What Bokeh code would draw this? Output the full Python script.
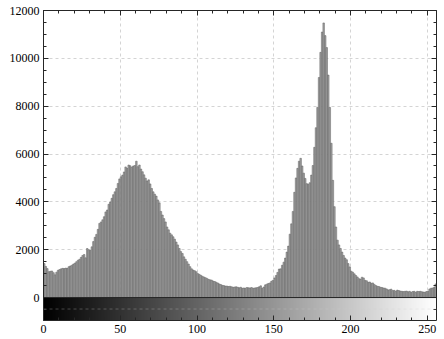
from bokeh.plotting import figure
from bokeh.models import (Range1d, FixedTicker, LinearAxis, Span, LinearColorMapper,
                          CustomLabelingPolicy)
from bokeh.palettes import Greys256
from bokeh.embed import file_html
from bokeh.resources import INLINE
import numpy as np

# histogram counts for gray levels 0..255
counts = [
    1420, 1300, 1210, 1080, 1100, 1110, 1040, 950, 1060, 1140,
    1170, 1200, 1220, 1210, 1230, 1220, 1290, 1320, 1350, 1400,
    1440, 1500, 1560, 1600, 1680, 1760, 1800, 1660, 2050, 2000,
    1980, 2120, 2340, 2520, 2640, 2850, 3100, 3160, 3250, 3380,
    3580, 3660, 3900, 3990, 4150, 4300, 4420, 4560, 4770, 4960,
    5050, 5120, 5250, 5460, 5400, 5540, 5510, 5450, 5500, 5520,
    5700, 5470, 5540, 5370, 5260, 5130, 4990, 4870, 4920, 4750,
    4560, 4420, 4320, 4240, 4080, 3960, 3600, 3450, 3300, 3160,
    2950, 2830, 2690, 2620, 2540, 2440, 2320, 2200, 2050, 1920,
    1840, 1700, 1600, 1500, 1400, 1290, 1200, 1150, 1120, 1080,
    1000, 970, 930, 890, 860, 830, 800, 760, 740, 730,
    690, 670, 640, 610, 570, 540, 510, 500, 480, 480,
    460, 470, 450, 430, 440, 450, 430, 410, 430, 390,
    400, 390, 420, 410, 400, 420, 390, 400, 410, 420,
    450, 490, 390, 440, 530, 560, 590, 610, 680, 720,
    820, 920, 1050, 1190, 1200, 1350, 1480, 1650, 1900, 2150,
    2650, 3080, 3600, 4400, 5000, 5400, 5700, 5820, 5500, 5200,
    4980, 4760, 4740, 4800, 5120, 5520, 6280, 7100, 7950, 9200,
    10250, 11100, 11480, 10950, 10450, 9300, 7950, 6450, 4900, 3800,
    2950, 2400, 2200, 2050, 1900, 1760, 1650, 1580, 1420, 1280,
    1100, 1060, 990, 920, 860, 790, 770, 850, 820, 720,
    700, 640, 650, 600, 610, 550, 500, 470, 460, 430,
    420, 400, 390, 360, 320, 330, 350, 290, 300, 260,
    310, 290, 270, 260, 250, 260, 270, 240, 260, 220,
    250, 260, 220, 260, 250, 260, 240, 230, 220, 250,
    260, 360, 390, 400, 430, 570,
]
levels = list(range(256))
x_ticks = [0, 50, 100, 150, 200, 250]
x_minor = list(range(0, 257, 10))
y_ticks = [0, 2000, 4000, 6000, 8000, 10000, 12000]
y_minor = list(range(-500, 12001, 500))

FONT = "Liberation Serif"
AX = "#262626"

p = figure(width=444, height=339, output_backend="svg", toolbar_location=None,
           x_range=Range1d(0, 256), y_range=Range1d(-960, 12000),
           min_border_left=43, min_border_right=8, min_border_top=10,
           min_border_bottom=19)
p.outline_line_color = None
p.background_fill_color = "white"

# grayscale bar under histogram
mapper = LinearColorMapper(palette=Greys256, low=0, high=255)
p.image(image=[np.array([levels], dtype=float)], x=0, y=-960, dw=256, dh=960,
        color_mapper=mapper)
p.add_layout(Span(location=-480, dimension="width", line_color="#cccccc",
                  line_dash="3 3", line_alpha=0.3, line_width=1))

p.quad(left=levels, right=[v + 1 for v in levels], bottom=0, top=counts,
       fill_color="#a2a2a2", line_color="#5e5e5e", line_width=0.5)

p.add_layout(Span(location=0, dimension="width", line_color=AX, line_width=1))

# grid
p.xgrid.ticker = FixedTicker(ticks=[50, 100, 150, 200, 250])
p.ygrid.ticker = FixedTicker(ticks=[2000, 4000, 6000, 8000, 10000])
for g in (p.xgrid, p.ygrid):
    g.grid_line_color = "#d4d4d4"
    g.grid_line_dash = "3 3"
    g.grid_line_width = 1

no_labels = CustomLabelingPolicy(code="""
for (const i of indices) { indices.unset(i) }
return indices
""")


def style(ax, show):
    ax.axis_line_color = AX
    ax.major_tick_line_color = AX
    ax.minor_tick_line_color = AX
    ax.major_tick_in = 5
    ax.major_tick_out = 0
    ax.minor_tick_in = 3
    ax.minor_tick_out = 0
    ax.major_label_text_font = FONT
    ax.major_label_text_color = "black"
    if show:
        ax.major_label_text_font_size = "12px"
        ax.major_label_standoff = 4
    else:
        ax.major_label_text_font_size = "1px"
        ax.major_label_standoff = 0
        ax.major_label_policy = no_labels


p.xaxis.ticker = FixedTicker(ticks=x_ticks, minor_ticks=x_minor)
p.yaxis.ticker = FixedTicker(ticks=y_ticks, minor_ticks=y_minor)
for ax in p.xaxis:
    style(ax, True)
for ax in p.yaxis:
    style(ax, True)

top = LinearAxis(ticker=FixedTicker(ticks=x_ticks, minor_ticks=x_minor))
style(top, False)
p.add_layout(top, "above")
right = LinearAxis(ticker=FixedTicker(ticks=y_ticks, minor_ticks=y_minor))
style(right, False)
p.add_layout(right, "right")

open("out.html", "w").write(file_html(p, INLINE))
